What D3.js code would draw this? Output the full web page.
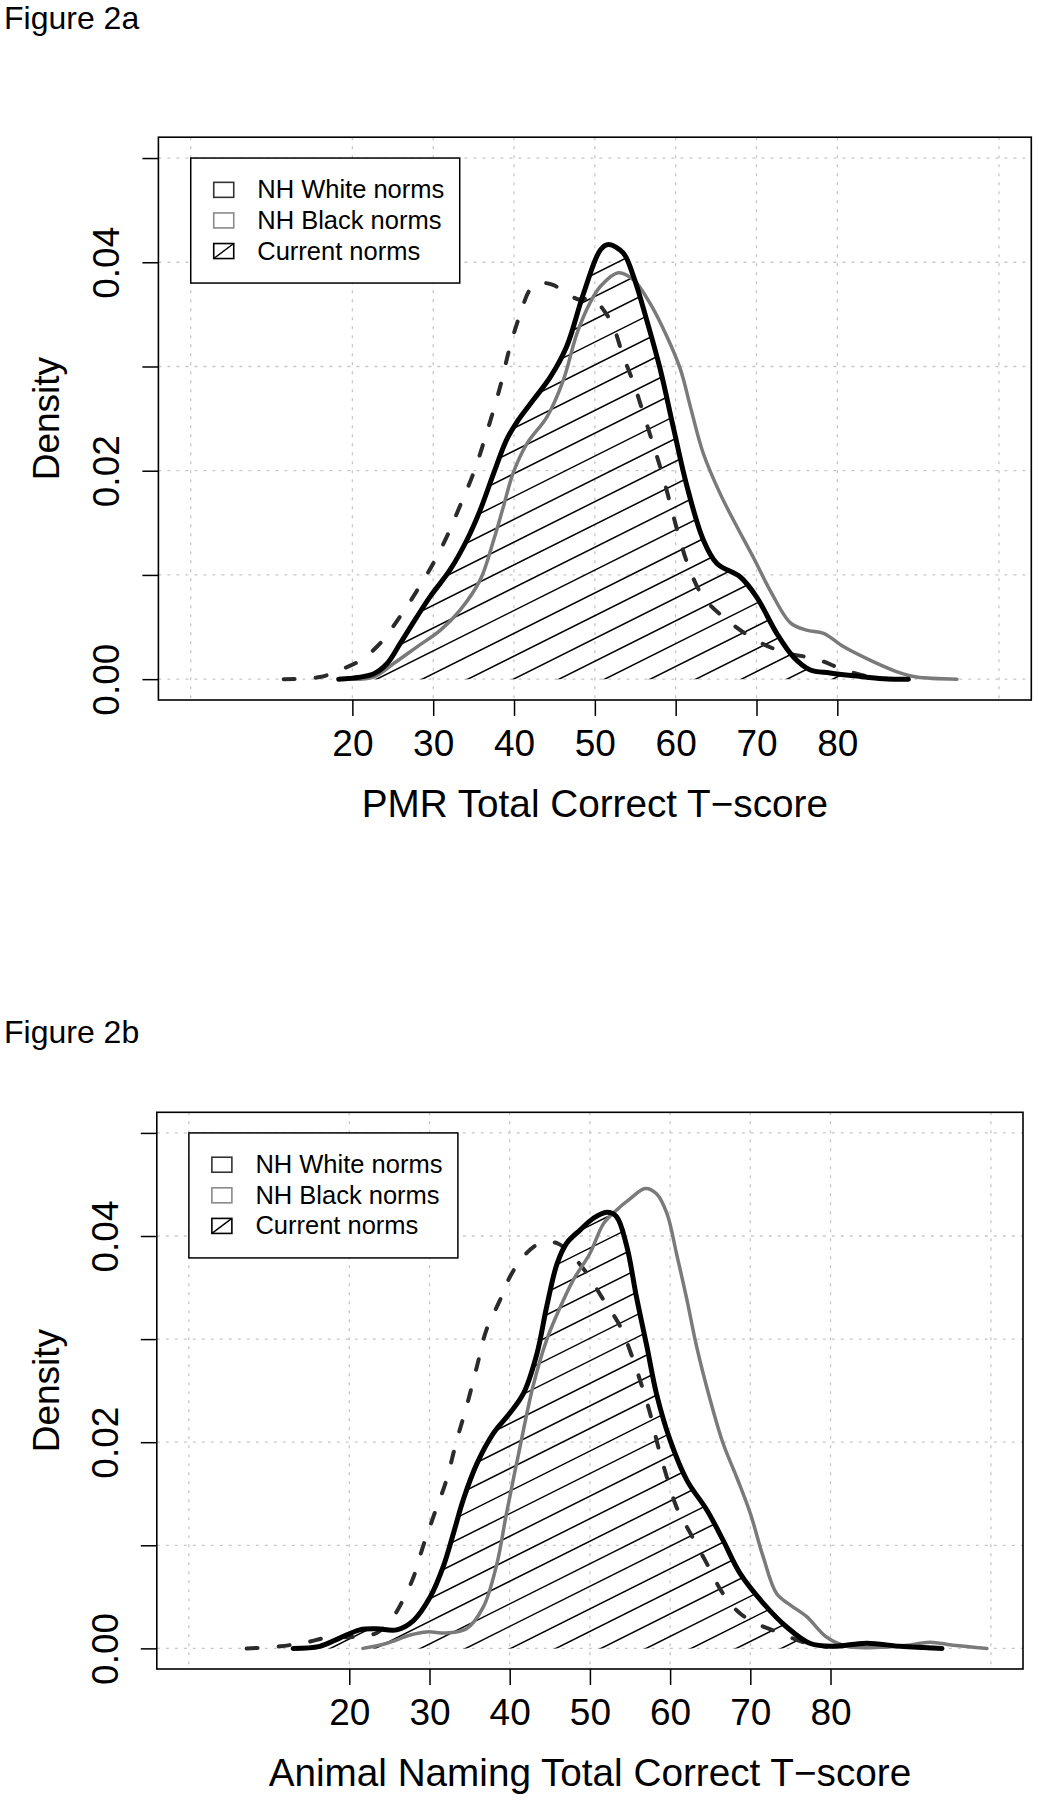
<!DOCTYPE html>
<html>
<head>
<meta charset="utf-8">
<script src="https://cdn.jsdelivr.net/npm/d3@7"></script>
<style>
  html, body { margin: 0; padding: 0; background: #fff; }
  svg { display: block; }
  text { font-family: "Liberation Sans", Arial, Helvetica, sans-serif; fill: #000; }
</style>
</head>
<body>
<script>
// ---------------- DATA ----------------
const xTickValues = [20, 30, 40, 50, 60, 70, 80];
const yTickValues = [0, 0.01, 0.02, 0.03, 0.04, 0.05];
const yTickLabels = ["0.00", "", "0.02", "", "0.04", ""];
const gridXValues = [0, 20, 30, 40, 50, 60, 70, 80, 100];
const gridYValues = [0, 0.01, 0.02, 0.03, 0.04, 0.05];
const legendLabels = ["NH White norms", "NH Black norms", "Current norms"];

// Figure 2a — PMR
const a_current_x = [18.3, 22.6, 24.3, 25.9, 28.0, 29.6, 32.1, 34.2, 35.8, 37.5, 39.1, 40.3, 42.4, 44.5, 46.5, 48.6, 50.7, 51.7, 53.5, 54.8, 56.4, 58.1, 59.7, 61.4, 63.4, 65.1, 68.0, 70.0, 72.5, 74.6, 76.6, 79.1, 82.4, 85.7, 88.8];
const a_current_y = [0.0000, 0.0005, 0.0015, 0.0034, 0.0060, 0.0079, 0.0105, 0.0134, 0.0162, 0.0198, 0.0230, 0.0246, 0.0268, 0.0290, 0.0319, 0.0370, 0.0412, 0.0417, 0.0409, 0.0386, 0.0345, 0.0297, 0.0242, 0.0185, 0.0134, 0.0111, 0.0098, 0.0079, 0.0044, 0.0021, 0.0009, 0.0006, 0.0003, 0.00005, 0.0000];
const a_black_x = [19.3, 22.6, 25.1, 28.0, 30.9, 33.3, 35.8, 37.5, 38.7, 39.9, 41.6, 44.1, 46.1, 47.8, 49.4, 50.7, 52.9, 54.8, 56.8, 58.9, 60.6, 61.8, 63.4, 65.5, 67.6, 69.6, 71.7, 74.2, 76.2, 78.3, 80.8, 84.1, 87.4, 89.8, 94.8];
const a_black_y = [0.0000, 0.0002, 0.0015, 0.0031, 0.0047, 0.0066, 0.0095, 0.0134, 0.0166, 0.0198, 0.0226, 0.0252, 0.0287, 0.0332, 0.0361, 0.0377, 0.0390, 0.0383, 0.0361, 0.0329, 0.0297, 0.0262, 0.0217, 0.0178, 0.0146, 0.0117, 0.0085, 0.0054, 0.0047, 0.0044, 0.0031, 0.0018, 0.0007, 0.0002, 0.0000];
const a_white_x = [11.5, 16.0, 18.5, 21.0, 23.4, 25.9, 28.0, 30.0, 31.7, 33.3, 35.0, 36.6, 38.3, 39.5, 40.8, 42.0, 43.2, 44.9, 46.5, 48.2, 49.6, 51.1, 52.3, 53.5, 54.8, 56.0, 57.3, 58.3, 59.3, 60.3, 61.6, 63.4, 66.3, 70.0, 73.3, 77.5, 80.8, 84.1, 86.6];
const a_white_y = [0.0000, 0.0002, 0.0009, 0.0018, 0.0034, 0.0060, 0.0085, 0.0111, 0.0137, 0.0166, 0.0198, 0.0236, 0.0281, 0.0319, 0.0351, 0.0374, 0.0380, 0.0378, 0.0370, 0.0364, 0.0366, 0.0354, 0.0338, 0.0310, 0.0284, 0.0255, 0.0223, 0.0198, 0.0169, 0.0140, 0.0108, 0.0079, 0.0057, 0.0037, 0.0026, 0.0019, 0.0009, 0.0002, 0.0000];

// Figure 2b — Animal Naming
const b_current_x = [13.0, 16.3, 18.8, 21.3, 23.4, 25.9, 28.0, 30.1, 31.7, 33.0, 34.2, 35.9, 38.0, 40.0, 41.7, 43.4, 44.6, 45.9, 47.1, 48.8, 50.4, 52.1, 53.3, 54.6, 55.8, 57.1, 58.3, 60.0, 62.1, 64.6, 66.6, 68.7, 71.6, 74.5, 77.4, 80.3, 84.5, 88.7, 93.9];
const b_current_y = [0.0000, 0.0002, 0.0010, 0.0018, 0.0019, 0.0018, 0.0027, 0.0050, 0.0079, 0.0112, 0.0144, 0.0179, 0.0209, 0.0228, 0.0247, 0.0286, 0.0331, 0.0373, 0.0393, 0.0406, 0.0417, 0.0423, 0.0419, 0.0390, 0.0341, 0.0293, 0.0247, 0.0202, 0.0163, 0.0134, 0.0105, 0.0073, 0.0044, 0.0021, 0.0005, 0.0002, 0.0005, 0.0002, 0.0000];
const b_black_x = [21.7, 24.7, 27.6, 29.7, 32.1, 34.6, 36.7, 38.4, 39.6, 41.3, 42.9, 44.6, 46.3, 47.9, 50.0, 51.7, 53.3, 55.0, 56.9, 58.3, 59.6, 60.8, 62.1, 63.3, 65.0, 66.6, 68.3, 70.0, 71.6, 73.3, 75.0, 77.0, 79.5, 82.0, 86.2, 89.5, 92.4, 95.3, 99.5];
const b_black_y = [0.0000, 0.0005, 0.0013, 0.0016, 0.0015, 0.0019, 0.0040, 0.0082, 0.0131, 0.0196, 0.0254, 0.0299, 0.0331, 0.0357, 0.0383, 0.0412, 0.0425, 0.0436, 0.0446, 0.0441, 0.0422, 0.0383, 0.0338, 0.0293, 0.0241, 0.0199, 0.0166, 0.0131, 0.0089, 0.0053, 0.0042, 0.0031, 0.0011, 0.0002, 0.0001, 0.0003, 0.0006, 0.0003, 0.0000];
const b_white_x = [7.2, 11.4, 14.7, 17.6, 20.5, 23.4, 25.5, 26.7, 28.0, 29.2, 30.5, 32.1, 33.4, 34.6, 35.9, 37.1, 38.8, 40.0, 41.7, 43.8, 45.9, 47.9, 49.6, 51.7, 53.8, 55.4, 56.5, 57.5, 58.5, 59.6, 60.8, 62.5, 64.6, 66.6, 68.7, 70.8, 73.7, 77.0, 79.9, 84.5, 88.7, 92.8];
const b_white_y = [0.0000, 0.0002, 0.0006, 0.0011, 0.0011, 0.0015, 0.0031, 0.0047, 0.0069, 0.0099, 0.0128, 0.0163, 0.0202, 0.0234, 0.0273, 0.0309, 0.0338, 0.0360, 0.0380, 0.0393, 0.0393, 0.0380, 0.0364, 0.0338, 0.0312, 0.0280, 0.0254, 0.0228, 0.0196, 0.0166, 0.0137, 0.0112, 0.0082, 0.0053, 0.0034, 0.0024, 0.0015, 0.0005, 0.0002, 0.0005, 0.0002, 0.0000];

// ---------------- DRAWING ----------------
const FONT = '"Liberation Sans", Arial, Helvetica, sans-serif';
const svg = d3.select("body").append("svg")
  .attr("width", 1037).attr("height", 1800)
  .attr("viewBox", "0 0 1037 1800");
svg.append("rect").attr("width", 1037).attr("height", 1800).attr("fill", "#fff");

function zip(xs, ys) { return xs.map((x, i) => [x, ys[i]]); }

function drawPanel(cfg) {
  const x = d3.scaleLinear().domain([-4, 104]).range([cfg.left, cfg.right]);
  const y = d3.scaleLinear().domain([-0.002, 0.052]).range([cfg.bottom, cfg.top]);
  const g = svg.append("g");

  // title
  g.append("text").attr("x", 4).attr("y", cfg.titleY)
    .style("font-size", "32px").text(cfg.title);

  // grid
  const grid = g.append("g").attr("stroke", "#c8c8c8").attr("stroke-width", 1.3)
    .attr("stroke-dasharray", "3,6").attr("fill", "none");
  grid.selectAll("line.gx").data(gridXValues).join("line")
    .attr("x1", d => x(d)).attr("x2", d => x(d))
    .attr("y1", cfg.top).attr("y2", cfg.bottom);
  grid.selectAll("line.gy").data(gridYValues).join("line")
    .attr("class", "gy")
    .attr("x1", cfg.left).attr("x2", cfg.right)
    .attr("y1", d => y(d)).attr("y2", d => y(d));

  const line = d3.line().x(d => x(d[0])).y(d => y(d[1]))
    .curve(d3.curveCatmullRom.alpha(0.5));

  const cur = zip(cfg.cur_x, cfg.cur_y);
  const blk = zip(cfg.blk_x, cfg.blk_y);
  const wht = zip(cfg.wht_x, cfg.wht_y);

  // hatching clipped to Current norms polygon
  const clipId = "clip_" + cfg.id;
  g.append("clipPath").attr("id", clipId)
    .append("path").attr("d", line(cur) + "Z");
  const hatch = g.append("g").attr("clip-path", `url(#${clipId})`)
    .attr("stroke", "#000").attr("stroke-width", 1.5);
  const sp = cfg.hatchSpacing, slope = cfg.hatchSlope;
  const y0 = y(0);
  const ks = d3.range(-40, 30);
  hatch.selectAll("line").data(ks).join("line")
    .attr("x1", k => cfg.hatchPhase + k * sp)
    .attr("y1", y0 + 2)
    .attr("x2", k => cfg.hatchPhase + k * sp + 1400)
    .attr("y2", y0 + 2 - 1400 * slope);

  // curves
  g.append("path").attr("d", line(wht)).attr("fill", "none")
    .attr("stroke", "#2b2b2b").attr("stroke-width", 4)
    .attr("stroke-dasharray", "11,21").attr("stroke-linecap", "round");
  g.append("path").attr("d", line(blk)).attr("fill", "none")
    .attr("stroke", "#7a7a7a").attr("stroke-width", 3.5)
    .attr("stroke-linecap", "round").attr("stroke-linejoin", "round");
  g.append("path").attr("d", line(cur)).attr("fill", "none")
    .attr("stroke", "#000").attr("stroke-width", 5)
    .attr("stroke-linecap", "round").attr("stroke-linejoin", "round");

  // box
  g.append("rect").attr("x", cfg.left).attr("y", cfg.top)
    .attr("width", cfg.right - cfg.left).attr("height", cfg.bottom - cfg.top)
    .attr("fill", "none").attr("stroke", "#000").attr("stroke-width", 1.6);

  // x axis
  const xa = g.append("g").attr("transform", `translate(0,${cfg.bottom})`)
    .call(d3.axisBottom(x).tickValues(xTickValues).tickSize(16).tickFormat(d3.format("d")));
  xa.select(".domain").remove();
  xa.selectAll(".tick line").attr("stroke", "#000").attr("stroke-width", 1.5);
  xa.selectAll(".tick text").attr("y", 56).attr("dy", null)
    .style("font-size", "37px").style("font-family", FONT).attr("fill", "#000");

  // y axis
  const ya = g.append("g").attr("transform", `translate(${cfg.left},0)`)
    .call(d3.axisLeft(y).tickValues(yTickValues).tickSize(16)
      .tickFormat((d, i) => yTickLabels[i]));
  ya.select(".domain").remove();
  ya.selectAll(".tick line").attr("stroke", "#000").attr("stroke-width", 1.5);
  ya.selectAll(".tick text").attr("x", null).attr("dy", null)
    .attr("text-anchor", "middle")
    .attr("transform", "translate(-39,0) rotate(-90)")
    .style("font-size", "37px").style("font-family", FONT).attr("fill", "#000");

  // axis titles
  g.append("text").attr("x", (cfg.left + cfg.right) / 2).attr("y", cfg.bottom + 117)
    .attr("text-anchor", "middle").style("font-size", "38.7px").text(cfg.xlabel);
  g.append("text")
    .attr("transform", `translate(59,${(cfg.top + cfg.bottom) / 2}) rotate(-90)`)
    .attr("text-anchor", "middle").style("font-size", "37px").text("Density");

  // legend
  const lx = x(0), ly = y(0.05);
  const lg = g.append("g").attr("transform", `translate(${lx},${ly})`);
  lg.append("rect").attr("x", 0).attr("y", 0).attr("width", 269).attr("height", 125)
    .attr("fill", "#fff").attr("stroke", "#000").attr("stroke-width", 1.5);
  const boxStroke = ["#333", "#8a8a8a", "#000"];
  legendLabels.forEach((lab, i) => {
    const cy = 31.8 + i * 30.6;
    lg.append("rect").attr("x", 23).attr("y", cy - 7.5).attr("width", 20).attr("height", 15)
      .attr("fill", "#fff").attr("stroke", boxStroke[i]).attr("stroke-width", 1.6);
    if (i === 2) {
      lg.append("line").attr("x1", 23).attr("y1", cy + 7.5).attr("x2", 43).attr("y2", cy - 7.5)
        .attr("stroke", "#000").attr("stroke-width", 1.4);
    }
    lg.append("text").attr("x", 66.5).attr("y", cy + 8.5)
      .style("font-size", "25.5px").text(lab);
  });
}

drawPanel({
  id: "a", title: "Figure 2a", titleY: 28.5,
  left: 158.4, right: 1031.3, top: 137.2, bottom: 700,
  xlabel: "PMR Total Correct T\u2212score",
  cur_x: a_current_x, cur_y: a_current_y,
  blk_x: a_black_x, blk_y: a_black_y,
  wht_x: a_white_x, wht_y: a_white_y,
  hatchSpacing: 45.6, hatchSlope: 0.5, hatchPhase: 418.3
});

drawPanel({
  id: "b", title: "Figure 2b", titleY: 1043,
  left: 156.8, right: 1023, top: 1112.3, bottom: 1669,
  xlabel: "Animal Naming Total Correct T\u2212score",
  cur_x: b_current_x, cur_y: b_current_y,
  blk_x: b_black_x, blk_y: b_black_y,
  wht_x: b_white_x, wht_y: b_white_y,
  hatchSpacing: 45.1, hatchSlope: 0.5, hatchPhase: 416.7
});
</script>
</body>
</html>
